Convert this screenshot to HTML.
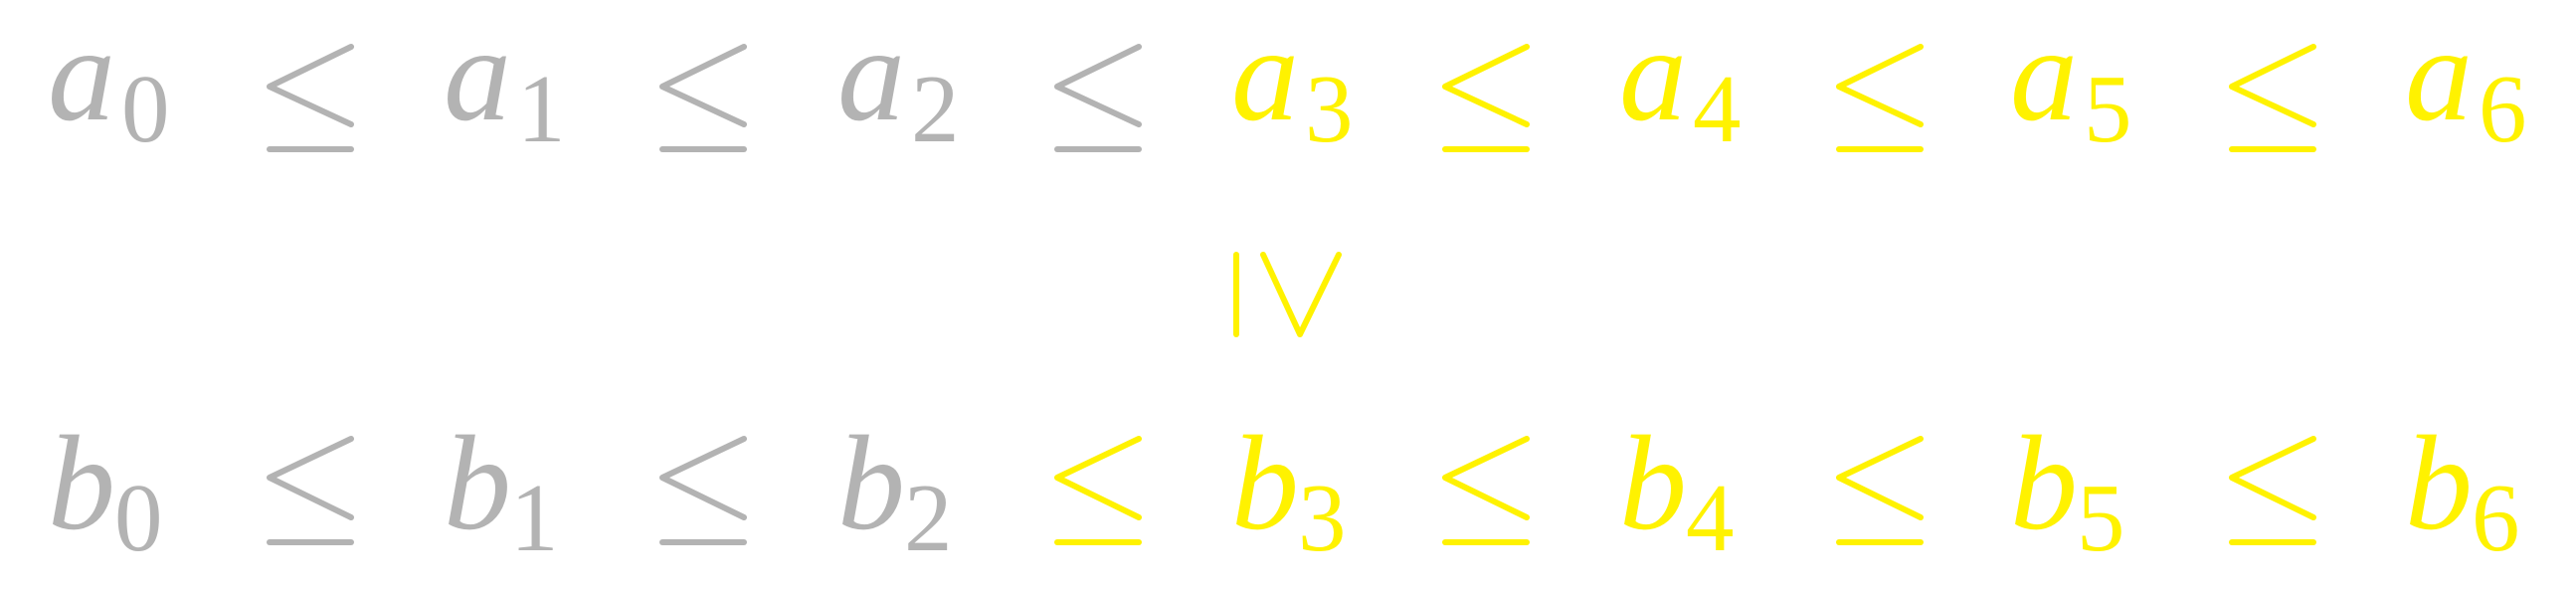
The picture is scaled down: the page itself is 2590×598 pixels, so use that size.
<!DOCTYPE html>
<html><head><meta charset="utf-8"><style>
html,body{margin:0;padding:0;background:#fff;}
svg{display:block;}
.g{fill:#b3b3b3;} .y{fill:#fff200;}
.gs{stroke:#b3b3b3;} .ys{stroke:#fff200;}
.v{font-family:"Liberation Serif",serif;font-style:italic;font-size:136px;}
.s{font-family:"Liberation Serif",serif;font-size:97px;}
.rel{fill:none;stroke-width:6;stroke-linecap:round;stroke-linejoin:round;}
</style></head><body>
<svg width="2590" height="598" viewBox="0 0 2590 598" xmlns="http://www.w3.org/2000/svg">
<g id="rows"></g>
<g>
<line class="rel ys" x1="1243" y1="256" x2="1243" y2="336"/>
<polyline class="rel ys" points="1270,256 1307,336 1346,256"/>
</g>
</svg>
<script>
const letterX = [52, 450, 846, 1242, 1632, 2025, 2422];
const leqX = [269, 664, 1061, 1451, 1847, 2242];
const subs = ['0','1','2','3','4','5','6'];
const rowA = {name:'a', base:120, subBase:142, leqTop:47, leqMid:87, leqBot:125, bar:150, yellowFrom:3, leqYellowFrom:3};
const rowB = {name:'b', base:531, subBase:553, leqTop:441, leqMid:480, leqBot:520, bar:545, yellowFrom:3, leqYellowFrom:2};
const NS='http://www.w3.org/2000/svg';
const root=document.getElementById('rows');
[rowA,rowB].forEach(r=>{
  const g=document.createElementNS(NS,'g');
  
  
  root.appendChild(g);
  letterX.forEach((x,i)=>{
    const c = i>=r.yellowFrom ? 'y':'g';
    const t=document.createElementNS(NS,'text');
    
    
    t.setAttribute('x', x-4); t.setAttribute('y', r.base);
    t.setAttribute('class', 'v '+c);
    t.textContent=r.name;
    g.appendChild(t);
    const s=document.createElementNS(NS,'text');
    
    
    s.setAttribute('x', x+(r.name==='a'?70:63)); s.setAttribute('y', r.subBase);
    s.setAttribute('class', 's '+c);
    s.textContent=subs[i];
    g.appendChild(s);
  });
  leqX.forEach((x,i)=>{
    const c = i>=r.leqYellowFrom ? 'ys':'gs';
    const lg=document.createElementNS(NS,'g');
    
    
    const p=document.createElementNS(NS,'polyline');
    p.setAttribute('class','rel '+c);
    p.setAttribute('points', `${x+84},${r.leqTop} ${x+2},${r.leqMid} ${x+84},${r.leqBot}`);
    lg.appendChild(p);
    const l=document.createElementNS(NS,'line');
    l.setAttribute('class','rel '+c);
    l.setAttribute('x1',x+2); l.setAttribute('x2',x+84);
    l.setAttribute('y1',r.bar); l.setAttribute('y2',r.bar);
    lg.appendChild(l);
    g.appendChild(lg);
  });
});
</script>
</body></html>
